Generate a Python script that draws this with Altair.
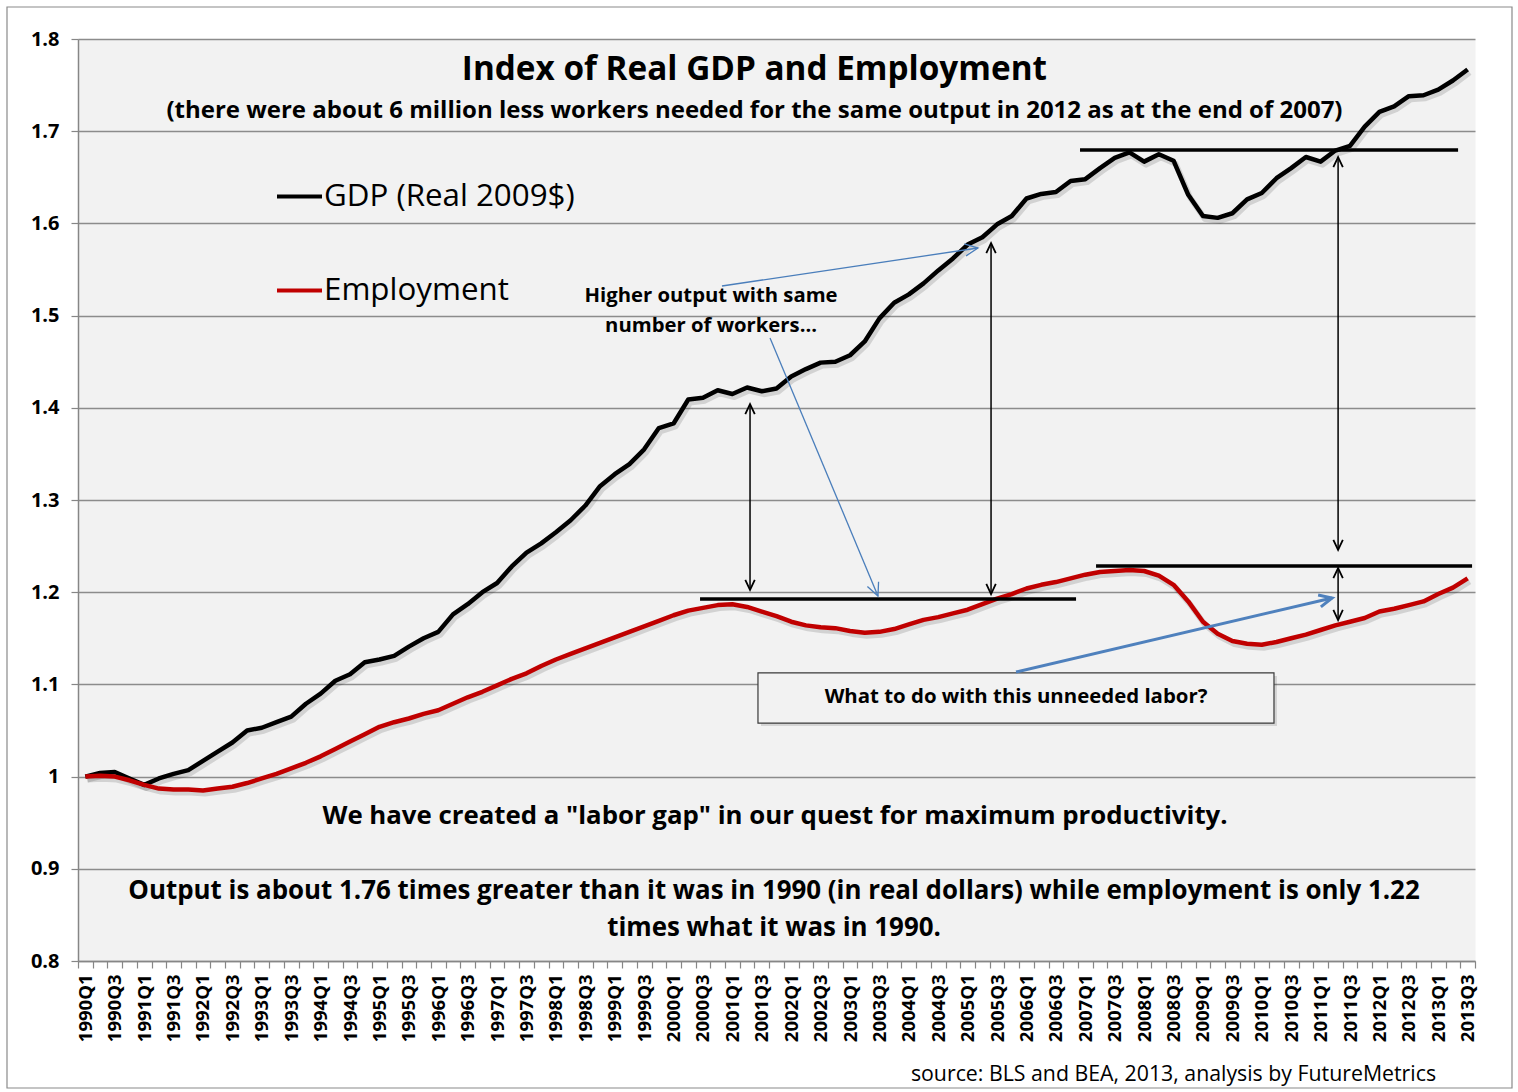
import math
import altair as alt
import pandas as pd

FONT = "Open Sans"
AXFONT = "Open Sans"

quarters = [f"{y}Q{q}" for y in range(1990, 2014) for q in (1, 2, 3, 4)][:95]

gdp = [1.000, 1.004, 1.005, 0.998, 0.991, 0.998, 1.003, 1.007, 1.017, 1.027,
       1.037, 1.050, 1.053, 1.059, 1.065, 1.079, 1.090, 1.104, 1.111, 1.124,
       1.127, 1.131, 1.141, 1.150, 1.157, 1.176, 1.187, 1.200, 1.210, 1.228,
       1.243, 1.253, 1.265, 1.278, 1.294, 1.315, 1.328, 1.339, 1.355, 1.378,
       1.383, 1.409, 1.411, 1.419, 1.415, 1.422, 1.418, 1.421, 1.434, 1.442,
       1.449, 1.450, 1.457, 1.472, 1.497, 1.514, 1.523, 1.535, 1.549, 1.562,
       1.577, 1.585, 1.599, 1.608, 1.627, 1.632, 1.634, 1.646, 1.648, 1.660,
       1.671, 1.677, 1.667, 1.675, 1.668, 1.631, 1.608, 1.606, 1.611, 1.626,
       1.633, 1.649, 1.660, 1.672, 1.667, 1.679, 1.684, 1.705, 1.721, 1.727,
       1.738, 1.739, 1.745, 1.755, 1.767]

employment = [1.000, 1.001, 1.000, 0.996, 0.991, 0.987, 0.986, 0.986, 0.985, 0.987,
              0.989, 0.993, 0.998, 1.003, 1.009, 1.015, 1.022, 1.030, 1.038, 1.046,
              1.054, 1.059, 1.063, 1.068, 1.072, 1.079, 1.086, 1.092, 1.099, 1.106,
              1.112, 1.120, 1.127, 1.133, 1.139, 1.145, 1.151, 1.157, 1.163, 1.169,
              1.175, 1.180, 1.183, 1.186, 1.187, 1.184, 1.179, 1.174, 1.168, 1.164,
              1.162, 1.161, 1.158, 1.156, 1.157, 1.160, 1.165, 1.170, 1.173, 1.177,
              1.181, 1.187, 1.193, 1.198, 1.204, 1.208, 1.211, 1.215, 1.219, 1.222,
              1.223, 1.224, 1.223, 1.218, 1.208, 1.190, 1.168, 1.155, 1.147, 1.144,
              1.143, 1.146, 1.150, 1.154, 1.159, 1.164, 1.168, 1.172, 1.179, 1.182,
              1.186, 1.190, 1.198, 1.205, 1.215]

series_names = ["GDP (Real 2009$)", "Employment"]
series_colors = ["#000000", "#c00000"]
y_ticks = [0.8, 0.9, 1.0, 1.1, 1.2, 1.3, 1.4, 1.5, 1.6, 1.7, 1.8]

# annotation geometry in data units (x = quarter index, y = index value)
level_bars = {"x": [42.3, 68.14, 69.23], "x2": [67.87, 93.85, 94.8], "y": [1.1926, 1.6796, 1.2284]}
double_arrows = {"x": [45.7, 62.09, 85.69, 85.69], "top": [1.404, 1.5787, 1.672, 1.2262],
                 "bottom": [1.2024, 1.198, 1.2458, 1.1698]}
thin_blue = {"x": [43.79, 47.06], "y": [1.5321, 1.4757], "x2": [61.2, 54.4], "y2": [1.5733, 1.1959]}
thick_blue = {"x": [63.79], "y": [1.1134], "x2": [85.28], "y2": [1.1937]}
box = {"x": [46.24], "x2": [81.33], "y": [1.1124], "y2": [1.0581]}

W, H = 1397, 922
N = len(quarters)
PXX = W / N
PXY = H / (y_ticks[-1] - y_ticks[0])

XS = alt.Scale(domain=[0, N], nice=False, zero=False)
YS = alt.Scale(domain=[y_ticks[0], y_ticks[-1]], nice=False, zero=False)

labels_js = "[" + ",".join(f"'{q}'" for q in quarters) + "]"
x_axis = alt.Axis(
    title=None, values=list(range(N + 1)), labelAngle=270, labelAlign="right", labelBaseline="middle",
    labelExpr=f"(datum.value % 2 == 0 && datum.value < {N}) ? {labels_js}[datum.value] : ''",
    labelOffset=PXX / 2, labelFlush=False, labelBound=False,
    labelFont=AXFONT, labelFontSize=18.5, labelFontWeight="bold", labelColor="#000000",
    labelPadding=6, labelOverlap=False, tickSize=7, tickColor="#868686", tickWidth=1.2,
    domainColor="#868686", domainWidth=1.5, grid=False,
)
y_axis = alt.Axis(
    title=None, values=y_ticks,
    labelExpr="datum.value == 1 ? '1' : format(datum.value, '.1f')",
    labelFont=AXFONT, labelFontSize=20, labelFontWeight="bold", labelColor="#000000",
    labelPadding=12, tickSize=7, tickColor="#868686", tickWidth=1.2,
    domainColor="#868686", domainWidth=1.5,
    grid=True, gridColor="#8c8c8c", gridWidth=1.3,
)


def xa(f):
    return alt.X(f, type="quantitative", scale=XS, axis=x_axis)


def ya(f):
    return alt.Y(f, type="quantitative", scale=YS, axis=y_axis)


lines_df = pd.DataFrame({
    "pos": [i + 0.5 for i in range(N)] * 2,
    "series": [series_names[0]] * N + [series_names[1]] * N,
    "value": gdp + employment,
})
# soft drop shadow: same series nudged ~2px right and ~3px down
lines_df["spos"] = lines_df["pos"] + 2 / PXX
lines_df["svalue"] = lines_df["value"] - 3 / PXY

shadow = alt.Chart(lines_df).mark_line(strokeWidth=6, color="#000000", opacity=0.13,
                                       strokeJoin="round").encode(
    x=xa("spos"), y=ya("svalue"), detail="series:N")

lines = alt.Chart(lines_df).mark_line(strokeWidth=4.5, strokeJoin="round").encode(
    x=xa("pos"),
    y=ya("value"),
    color=alt.Color("series:N", scale=alt.Scale(domain=series_names, range=series_colors),
                    legend=alt.Legend(orient="none", legendX=197, legendY=133, title=None,
                                      symbolType="stroke", symbolSize=2025, symbolStrokeWidth=4,
                                      labelFont=FONT, labelFontSize=31.3, labelColor="#000000",
                                      labelLimit=0, rowPadding=54, labelOffset=0, padding=0)),
)

bars = alt.Chart(pd.DataFrame(level_bars)).mark_rule(strokeWidth=3.5, color="#000000").encode(
    x=xa("x"), x2="x2", y=ya("y"))

da_df = pd.DataFrame(double_arrows)
da_rules = alt.Chart(da_df).mark_rule(strokeWidth=1.5, color="#000000").encode(
    x=xa("x"), y=ya("top"), y2="bottom")

CHEVRON = "M -0.75 1.6 L 0 0 L 0.75 1.6"
heads_black = pd.DataFrame({
    "x": double_arrows["x"] * 2,
    "y": double_arrows["top"] + double_arrows["bottom"],
    "angle": [0] * 4 + [180] * 4,
})
da_heads = alt.Chart(heads_black).mark_point(shape=CHEVRON, filled=False, size=160, strokeWidth=1.8,
                                             color="#000000", opacity=1).encode(
    x=xa("x"), y=ya("y"), angle=alt.Angle("angle:Q", scale=None))


def head_angle(x, y, x2, y2):
    dx = (x2 - x) * PXX
    dy = -(y2 - y) * PXY
    return math.degrees(math.atan2(dx, -dy)) % 360


tb_df = pd.DataFrame(thin_blue)
tb_df["angle"] = [head_angle(a, b, c, d) for a, b, c, d in zip(tb_df.x, tb_df.y, tb_df.x2, tb_df.y2)]
tb_rules = alt.Chart(tb_df).mark_rule(strokeWidth=1.3, color="#4a7ebb").encode(
    x=xa("x"), y=ya("y"), x2="x2", y2="y2")
tb_heads = alt.Chart(tb_df).mark_point(shape=CHEVRON, filled=False, size=260, strokeWidth=1.3,
                                       color="#4a7ebb", opacity=1).encode(
    x=xa("x2"), y=ya("y2"), angle=alt.Angle("angle:Q", scale=None))

kb_df = pd.DataFrame(thick_blue)
kb_df["angle"] = [head_angle(a, b, c, d) for a, b, c, d in zip(kb_df.x, kb_df.y, kb_df.x2, kb_df.y2)]
kb_rules = alt.Chart(kb_df).mark_rule(strokeWidth=3, color="#4f81bd").encode(
    x=xa("x"), y=ya("y"), x2="x2", y2="y2")
kb_heads = alt.Chart(kb_df).mark_point(shape=CHEVRON, filled=False, size=260, strokeWidth=3,
                                       color="#4f81bd", opacity=1).encode(
    x=xa("x2"), y=ya("y2"), angle=alt.Angle("angle:Q", scale=None))

box_df = pd.DataFrame(box)
box_df["sx"] = box_df["x"] + 3 / PXX
box_df["sx2"] = box_df["x2"] + 3 / PXX
box_df["sy"] = box_df["y"] - 3 / PXY
box_df["sy2"] = box_df["y2"] - 3 / PXY
box_shadow = alt.Chart(box_df).mark_rect(fill="#000000", opacity=0.12).encode(
    x=xa("sx"), x2="sx2", y=ya("sy"), y2="sy2")
box_layer = alt.Chart(box_df).mark_rect(fill="#f2f2f2", stroke="#3a3a3a", strokeWidth=1.2).encode(
    x=xa("x"), x2="x2", y=ya("y"), y2="y2")


def texts(rows, size, weight="bold", align="center", font=FONT):
    df = pd.DataFrame(rows, columns=["text", "x", "y"])
    return alt.Chart(df).mark_text(font=font, fontSize=size, fontWeight=weight, align=align,
                                   baseline="middle", color="#000000").encode(
        x=xa("x"), y=ya("y"), text="text:N")


title = texts([["Index of Real GDP and Employment", 46.0, 1.7664]], 33.3)
subtitle = texts([["(there were about 6 million less workers needed for the same output in 2012 as at the end of 2007)",
                   46.0, 1.7219]], 24)
note1 = texts([["Higher output with same", 43.05, 1.5213], ["number of workers...", 43.05, 1.4887]], 20.3)
note2 = texts([["What to do with this unneeded labor?", 63.79, 1.0863]], 20.4)
note3 = texts([['We have created a "labor gap" in our quest for maximum productivity.', 47.4, 0.9573]], 25.8)
note4 = texts([["Output is about 1.76 times greater than it was in 1990 (in real dollars) while employment is only 1.22",
                47.33, 0.8759], ["times what it was in 1990.", 47.33, 0.8358]], 25.9)
source = texts([["source: BLS and BEA, 2013, analysis by FutureMetrics", 92.35, 0.6764]], 21.3,
               weight="normal", align="right")

frame = alt.Chart(pd.DataFrame({"a": [0]})).mark_rect(fillOpacity=0, stroke="#8a8a8a", strokeWidth=1.2).encode(
    x=alt.value(-71), x2=alt.value(1434), y=alt.value(-32), y2=alt.value(1049))

chart = alt.layer(
    shadow, lines, frame, box_shadow, box_layer, bars, da_rules, da_heads, tb_rules, tb_heads, kb_rules,
    kb_heads, title, subtitle, note1, note2, note3, note4, source,
).properties(
    width=W, height=H,
    autosize=alt.AutoSizeParams(type="none"),
    padding={"left": 78, "top": 39, "right": 43, "bottom": 131},
    background="#ffffff",
).configure_view(fill="#f2f2f2", stroke="transparent")

chart.save("out.html", embed_options={"renderer": "svg", "actions": False})
